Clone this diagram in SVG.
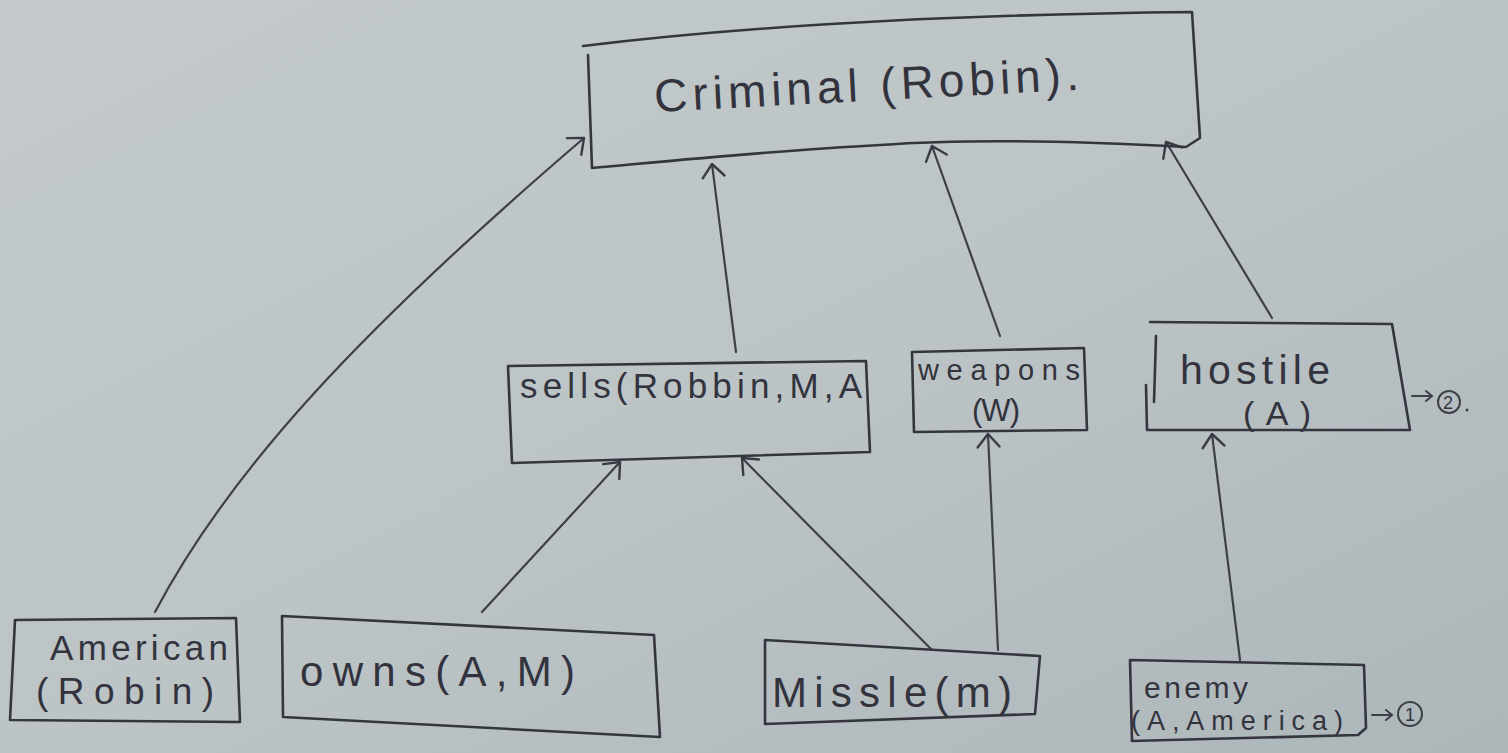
<svg xmlns="http://www.w3.org/2000/svg" width="1508" height="753" viewBox="0 0 1508 753">
  <defs>
    <linearGradient id="paper" x1="0" y1="0" x2="1" y2="1">
      <stop offset="0" stop-color="#c4cacc"/>
      <stop offset="0.5" stop-color="#bcc4c6"/>
      <stop offset="1" stop-color="#adb6b9"/>
    </linearGradient>
    <marker id="head" viewBox="0 0 30 30" refX="15" refY="15" markerWidth="30" markerHeight="30" markerUnits="userSpaceOnUse" orient="auto">
      <polyline points="2,4 15,15 2,26" fill="none" stroke="#3a3a44" stroke-width="2.4" stroke-linecap="round" stroke-linejoin="round"/>
    </marker>
  </defs>
  <style>
    .box { fill: none; stroke: #35353f; stroke-width: 2.6; stroke-linejoin: round; stroke-linecap: round; }
    .edge { fill: none; stroke: #3f3f48; stroke-width: 2.2; stroke-linecap: round; marker-end: url(#head); }
    .lbl { font-family: "Liberation Sans", "DejaVu Sans", sans-serif; fill: #33333e; }
    .note { fill: none; stroke: #3f3f48; stroke-width: 2; stroke-linecap: round; }
  </style>

  <rect x="0" y="0" width="1508" height="753" fill="url(#paper)"/>

  <g id="connectors">
    <path class="edge" d="M155,612 C230,470 360,330 584,138"/>
    <path class="edge" d="M736,352 L712,164"/>
    <path class="edge" d="M1000,336 L932,146"/>
    <path class="edge" d="M1272,318 L1166,142"/>
    <path class="edge" d="M482,612 L620,462"/>
    <path class="edge" d="M932,650 L742,458"/>
    <path class="edge" d="M998,650 L988,434"/>
    <path class="edge" d="M1240,660 L1212,434"/>
  </g>

  <g id="criminal">
    <path class="box" d="M583,46 C780,22 1000,14 1192,12 L1200,138 L1186,147 C1060,140 950,140 880,145 C780,150 680,160 592,168 L588,55"/>
    <text class="lbl" x="655" y="112" font-size="46" textLength="425" lengthAdjust="spacing" transform="rotate(-3 655 112)">Criminal (Robin).</text>
  </g>

  <g id="sells">
    <path class="box" d="M508,366 L866,361 L870,452 L512,463 Z"/>
    <text class="lbl" x="520" y="398" font-size="35" textLength="342" lengthAdjust="spacing">sells(Robbin,M,A</text>
  </g>

  <g id="weapons">
    <path class="box" d="M912,352 L1084,348 L1087,430 L914,432 Z"/>
    <text class="lbl" x="918" y="380" font-size="29" textLength="162" lengthAdjust="spacing">weapons</text>
    <text class="lbl" x="972" y="421" font-size="31" textLength="48" lengthAdjust="spacing">(W)</text>
  </g>

  <g id="hostile">
    <path class="box" d="M1150,322 L1392,324 L1410,430 L1148,430 M1146,385 L1147,430 M1156,336 L1154,402"/>
    <text class="lbl" x="1180" y="384" font-size="41" textLength="150" lengthAdjust="spacing">hostile</text>
    <text class="lbl" x="1243" y="425" font-size="34" textLength="68" lengthAdjust="spacing">(A)</text>
    <path class="note" d="M1412,396 L1432,396 M1426,391 L1432,396 L1426,401"/>
    <circle cx="1449" cy="402" r="11" class="note"/>
    <text class="lbl" x="1443" y="409" font-size="18">2</text>
    <circle cx="1467" cy="410" r="1.5" fill="#3f3f48"/>
  </g>

  <g id="american">
    <path class="box" d="M15,620 L236,618 L240,722 L10,720 Z"/>
    <text class="lbl" x="50" y="660" font-size="35" textLength="178" lengthAdjust="spacing">American</text>
    <text class="lbl" x="36" y="704" font-size="37" textLength="178" lengthAdjust="spacing">(Robin)</text>
  </g>

  <g id="owns">
    <path class="box" d="M282,616 L654,635 L660,737 L283,717 Z"/>
    <text class="lbl" x="300" y="686" font-size="42" textLength="275" lengthAdjust="spacing">owns(A,M)</text>
  </g>

  <g id="missle">
    <path class="box" d="M765,640 L1040,656 L1035,714 L765,724 Z"/>
    <text class="lbl" x="772" y="707" font-size="42" textLength="240" lengthAdjust="spacing">Missle(m)</text>
  </g>

  <g id="enemy">
    <path class="box" d="M1130,660 L1364,665 L1366,728 L1358,735 L1132,741 Z"/>
    <text class="lbl" x="1144" y="698" font-size="30" textLength="104" lengthAdjust="spacing">enemy</text>
    <text class="lbl" x="1131" y="730" font-size="27" textLength="212" lengthAdjust="spacing">(A,America)</text>
    <path class="note" d="M1372,715 L1392,715 M1386,710 L1392,715 L1386,720"/>
    <circle cx="1410" cy="714" r="12" class="note"/>
    <text class="lbl" x="1405" y="721" font-size="18">1</text>
  </g>
</svg>
